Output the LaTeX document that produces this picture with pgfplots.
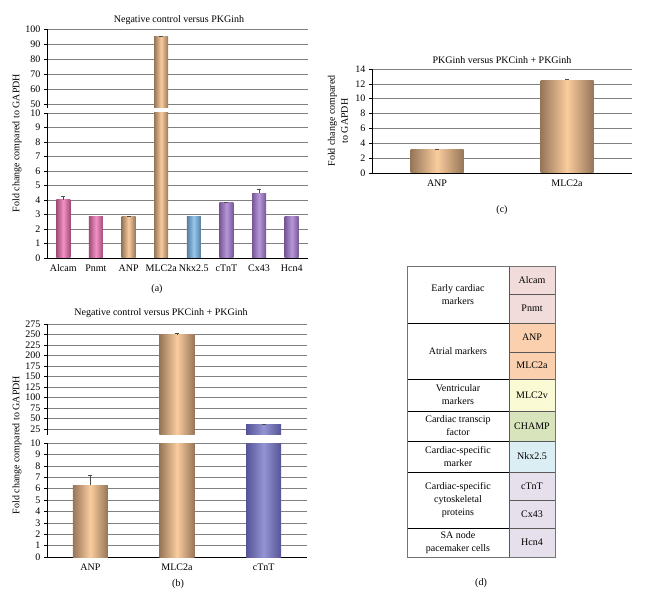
\documentclass[border=0pt]{standalone}
\usepackage{fontspec}
\setmainfont{Liberation Serif}
\usepackage{pgfplots}
\pgfplotsset{compat=1.18}
\definecolor{pinkc}{RGB}{242,146,196}
\definecolor{pinkd}{RGB}{160,76,120}
\definecolor{tanc}{RGB}{250,204,158}
\definecolor{tand}{RGB}{150,118,88}
\definecolor{bluec}{RGB}{150,198,236}
\definecolor{blued}{RGB}{88,124,160}
\definecolor{purc}{RGB}{184,150,216}
\definecolor{purd}{RGB}{118,88,150}
\definecolor{vioc}{RGB}{148,148,212}
\definecolor{viod}{RGB}{84,84,150}
\definecolor{gridc}{RGB}{128,128,128}
\definecolor{tpink}{RGB}{242,220,219}
\definecolor{torange}{RGB}{250,208,174}
\definecolor{tyellow}{RGB}{250,250,212}
\definecolor{tgreen}{RGB}{215,228,188}
\definecolor{tblue}{RGB}{219,238,243}
\definecolor{tlav}{RGB}{229,224,236}
\pgfplotsset{
  base/.style={
    scale only axis, anchor=south west, ybar,
    /pgf/number format/assume math mode=true,
    ymajorgrids, grid style={gridc, line width=0.6pt},
    tick align=outside, major tick length=3pt,
    ytick style={black, line width=0.5pt},
    xtick style={draw=none},
    axis line style={-, black, line width=0.7pt},
    tick label style={font=\fontsize{10}{12}\selectfont},
  },
  shd/.style 2 args={draw=none, left color=#2, right color=#2, middle color=#1, bar shift=0pt},
  err/.style={error bars/.cd, y dir=plus, y explicit, error bar style={black!70, line width=0.5pt}},
}
\begin{document}
\begin{tikzpicture}[font=\fontsize{10}{13}\selectfont]
\path[use as bounding box] (0pt,0pt) rectangle (648pt,-593pt);

% ---------- Panel (a) ----------
\begin{axis}[base, at={(47pt,-258pt)}, width=261pt, height=145pt,
  xmin=-0.5, xmax=7.5, ymin=0, ymax=10, ytick={0,1,...,10},
  xtick={0,...,7}, xticklabels={Alcam,Pnmt,ANP,MLC2a,Nkx2.5,cTnT,Cx43,Hcn4},
  axis lines*=left, bar width=14pt]
\addplot[shd={pinkc}{pinkd}, err] coordinates {(0,4.0) +- (0,0.25)};
\addplot[shd={pinkc}{pinkd}] coordinates {(1,2.85)};
\addplot[shd={tanc}{tand}, err] coordinates {(2,2.85) +- (0,0.06)};
\addplot[shd={tanc}{tand}] coordinates {(3,95)};
\addplot[shd={bluec}{blued}] coordinates {(4,2.85)};
\addplot[shd={purc}{purd}, err] coordinates {(5,3.85) +- (0,0.03)};
\addplot[shd={purc}{purd}, err] coordinates {(6,4.45) +- (0,0.3)};
\addplot[shd={purc}{purd}] coordinates {(7,2.85)};
\end{axis}
\begin{axis}[base, at={(47pt,-108pt)}, width=261pt, height=79pt,
  xmin=-0.5, xmax=7.5, ymin=47.3, ymax=100, ytick={50,60,...,100}, xtick=\empty,
  axis y line*=left, axis x line=none, bar width=14pt]
\addplot[shd={tanc}{tand}, err] coordinates {(3,95) +- (0,0.3)};
\end{axis}
\node at (179pt,-20pt) {Negative control versus PKGinh};
\node[rotate=90] at (17pt,-143pt) {Fold change compared to GAPDH};
\node at (157pt,-289pt) {(a)};

% ---------- Panel (b) ----------
\begin{axis}[base, at={(47pt,-557pt)}, width=260pt, height=114pt,
  xmin=-0.5, xmax=2.5, ymin=0, ymax=10, ytick={0,1,...,10},
  xtick={0,1,2}, xticklabels={ANP,MLC2a,cTnT},
  axis lines*=left, bar width=35pt]
\addplot[shd={tanc}{tand}, err] coordinates {(0,6.3) +- (0,0.9)};
\addplot[shd={tanc}{tand}] coordinates {(1,251)};
\addplot[shd={vioc}{viod}] coordinates {(2,35)};
\end{axis}
\begin{axis}[base, at={(47pt,-435pt)}, width=260pt, height=111pt,
  xmin=-0.5, xmax=2.5, ymin=10.6, ymax=275, ytick={25,50,...,275}, xtick=\empty,
  axis y line*=left, axis x line=none, bar width=35pt]
\addplot[shd={tanc}{tand}, err] coordinates {(1,251) +- (0,1)};
\addplot[shd={vioc}{viod}, err] coordinates {(2,35) +- (0,2)};
\end{axis}
\node at (161pt,-313pt) {Negative control versus PKCinh + PKGinh};
\node[rotate=90] at (17pt,-445pt) {Fold change compared to GAPDH};
\node at (178pt,-584pt) {(b)};

% ---------- Panel (c) ----------
\begin{axis}[base, at={(372pt,-173pt)}, width=260pt, height=104pt,
  xmin=-0.5, xmax=1.5, ymin=0, ymax=14, ytick={0,2,...,14},
  xtick={0,1}, xticklabels={ANP,MLC2a},
  axis lines*=left, bar width=53pt]
\addplot[shd={tanc}{tand}, err] coordinates {(0,3.1) +- (0,0.15)};
\addplot[shd={tanc}{tand}, err] coordinates {(1,12.5) +- (0,0.12)};
\end{axis}
\node at (502pt,-60pt) {PKGinh versus PKCinh + PKGinh};
\node[rotate=90, align=center] at (338pt,-121pt) {Fold change compared\\to GAPDH};
\node at (502pt,-210pt) {(c)};

% ---------- Panel (d) table ----------
\fill[tpink] (509pt,-267pt) rectangle (555pt,-323pt);
\fill[torange] (509pt,-323pt) rectangle (555pt,-379pt);
\fill[tyellow] (509pt,-379pt) rectangle (555pt,-411pt);
\fill[tgreen] (509pt,-411pt) rectangle (555pt,-441pt);
\fill[tblue] (509pt,-441pt) rectangle (555pt,-472pt);
\fill[tlav] (509pt,-472pt) rectangle (555pt,-557pt);
\foreach \yy in {294,323,352,379,411,441,472,500,528}
  \draw[black!65, line width=0.8pt] (509pt,-\yy pt) -- (555pt,-\yy pt);
\foreach \yy in {323,379,411,441,472,528}
  \draw[black, line width=0.8pt] (407pt,-\yy pt) -- (509pt,-\yy pt);
\draw[black!65, line width=1pt] (509pt,-267pt) -- (509pt,-557pt);
\draw[black!55, line width=1pt] (407pt,-267pt) rectangle (555pt,-557pt);
\node at (532pt,-280.5pt) {Alcam};
\node at (532pt,-308.5pt) {Pnmt};
\node at (532pt,-337.5pt) {ANP};
\node at (532pt,-365.5pt) {MLC2a};
\node at (532pt,-395pt) {MLC2v};
\node at (532pt,-426pt) {CHAMP};
\node at (532pt,-456.5pt) {Nkx2.5};
\node at (532pt,-486pt) {cTnT};
\node at (532pt,-514pt) {Cx43};
\node at (532pt,-542.5pt) {Hcn4};
\node[align=center] at (458pt,-295pt) {Early cardiac\\markers};
\node[align=center] at (458pt,-351pt) {Atrial markers};
\node[align=center] at (458pt,-395pt) {Ventricular\\markers};
\node[align=center] at (458pt,-426pt) {Cardiac transcip\\factor};
\node[align=center] at (458pt,-456.5pt) {Cardiac-specific\\marker};
\node[align=center] at (458pt,-500pt) {Cardiac-specific\\cytoskeletal\\proteins};
\node[align=center] at (458pt,-542.5pt) {SA node\\pacemaker cells};
\node at (481pt,-583pt) {(d)};
\end{tikzpicture}
\end{document}
